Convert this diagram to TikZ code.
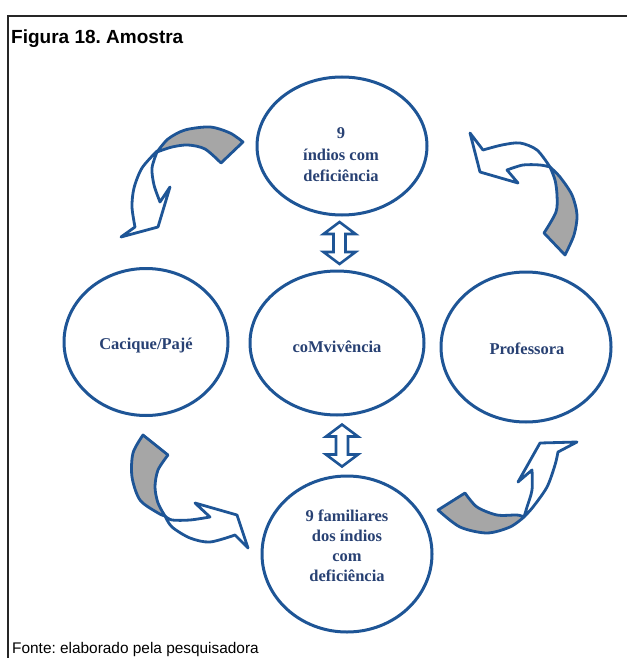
\documentclass[tikz,border=0pt]{standalone}
\usepackage{fontspec}
\setmainfont{Liberation Serif}
\newfontfamily\arialfont{Liberation Sans}
\usetikzlibrary{shapes.geometric,calc}
\definecolor{eblue}{RGB}{30,85,150}
\definecolor{tblue}{RGB}{40,65,115}
\definecolor{agray}{RGB}{166,166,166}
\newcommand{\dblarr}[1]{\draw[darrow] ($#1+(0,-21)$) -- ++(16,12) -- ++(-10,0) -- ++(0,18) -- ++(10,0) -- ++(-16,12) -- ++(-16,-12) -- ++(10,0) -- ++(0,-18) -- ++(-10,0) -- cycle;}
\frenchspacing
\begin{document}
\begin{tikzpicture}[x=1pt,y=-1pt,
 ell/.style={ellipse, draw=eblue, line width=3pt, inner sep=0pt},
 etext/.style={font=\bfseries\fontsize{16.5}{21.5}\selectfont, text=tblue, align=center, inner sep=0pt},
 darrow/.style={draw=eblue, line width=2.6pt, fill=white, line join=miter},
 carrow/.style={draw=eblue, line width=2.8pt, fill=white, line join=round},
 garrow/.style={carrow, fill=agray}]
\useasboundingbox (0,0) rectangle (627,658);
\draw[line width=1.8pt, black!85] (8,658) -- (8,16) -- (627,16);
\node[anchor=base west, inner sep=0pt, font=\arialfont\bfseries\fontsize{19}{22}\selectfont] (title) at (11,44) {Figura 18. Amostra};
\node[anchor=base west, inner sep=0pt, font=\arialfont\fontsize{15.4}{18}\selectfont] (fonte) at (12,653) {Fonte: elaborado pela pesquisadora};
% ellipses
\node[ell, minimum width=170pt, minimum height=138pt] (top) at (342,146) {};
\node[ell, minimum width=174pt, minimum height=144pt] (mid) at (337,343) {};
\node[ell, minimum width=164pt, minimum height=147pt] (left) at (146,342) {};
\node[ell, minimum width=170pt, minimum height=150pt] (right) at (526,347) {};
\node[ell, minimum width=170pt, minimum height=156pt] (bot) at (347,554) {};
% texts
\node[etext] (toptext) at (341,155) {9\\índios com\\deficiência};
\node[etext] (midtext) at (337,347) {coMvivência};
\node[etext] (lefttext) at (146,346) {Cacique/Pajé};
\node[etext] (righttext) at (527,349) {Professora};
\node[etext, font=\bfseries\fontsize{16.5}{20}\selectfont] (bottext) at (347,546) {9 familiares\\dos índios\\com\\deficiência};
% double arrows
\coordinate (d1) at ($(top.south)!0.5!(mid.north)$);
\coordinate (d2) at ($(mid.south)!0.5!(bot.north)$);
\dblarr{(d1)}
\dblarr{(d2)}
% top-left curved arrow
\filldraw[garrow] (243,142) -- (221,163) -- plot[smooth] coordinates {(221,163) (205,149) (188,145) (172,147) (157,152)} -- plot[smooth] coordinates {(157,152) (168,139) (185,130) (210,127) (230,133) (243,142)} -- cycle;
\filldraw[carrow] (157,151) -- plot[smooth] coordinates {(157,151) (142,168) (134,188) (132,207) (135,227)} -- (121,237) -- (158,227) -- (170,187) -- (160,202) -- plot[smooth] coordinates {(160,202) (154,185) (152,168) (157,152)} -- cycle;
% top-right curved arrow
\filldraw[garrow] (544,233) -- (565,255) -- plot[smooth] coordinates {(565,255) (574,235) (577,215) (572,195) (560,177) (550,167)} -- plot[smooth] coordinates {(550,167) (555,180) (557,195) (556,212) (544,233)} -- cycle;
\filldraw[carrow] (550,167) -- plot[smooth] coordinates {(550,167) (537,150) (520,143) (502,145) (483,150)} -- (470,133) -- (480,172) -- (518,183) -- (507,170) -- plot[smooth] coordinates {(507,170) (523,165) (540,165) (550,167)} -- cycle;
% bottom-left curved arrow
\filldraw[garrow] (143,435) -- (168,455) -- plot[smooth] coordinates {(168,455) (158,470) (155,487) (158,503) (165,516)} -- plot[smooth] coordinates {(165,516) (158,513) (140,500) (132,477) (133,453) (143,435)} -- cycle;
\filldraw[carrow] (165,516) -- plot[smooth] coordinates {(165,516) (172,527) (190,538) (210,542) (235,535)} -- (248,548) -- (237,515) -- (195,503) -- (210,517) -- plot[smooth] coordinates {(210,517) (190,520) (172,520) (165,516)} -- cycle;
% bottom-right curved arrow
\filldraw[garrow] (438,510) -- (465,493) -- plot[smooth] coordinates {(465,493) (477,507) (497,515) (517,515) (524,517)} -- plot[smooth] coordinates {(524,517) (510,527) (487,533) (460,527) (438,510)} -- cycle;
\filldraw[carrow] (524,517) -- plot[smooth] coordinates {(524,517) (533,507) (547,487) (555,465) (558,452)} -- (577,442) -- (540,443) -- (518,482) -- (532,470) -- plot[smooth] coordinates {(532,470) (532,490) (527,507) (524,517)} -- cycle;
\end{tikzpicture}
\end{document}
